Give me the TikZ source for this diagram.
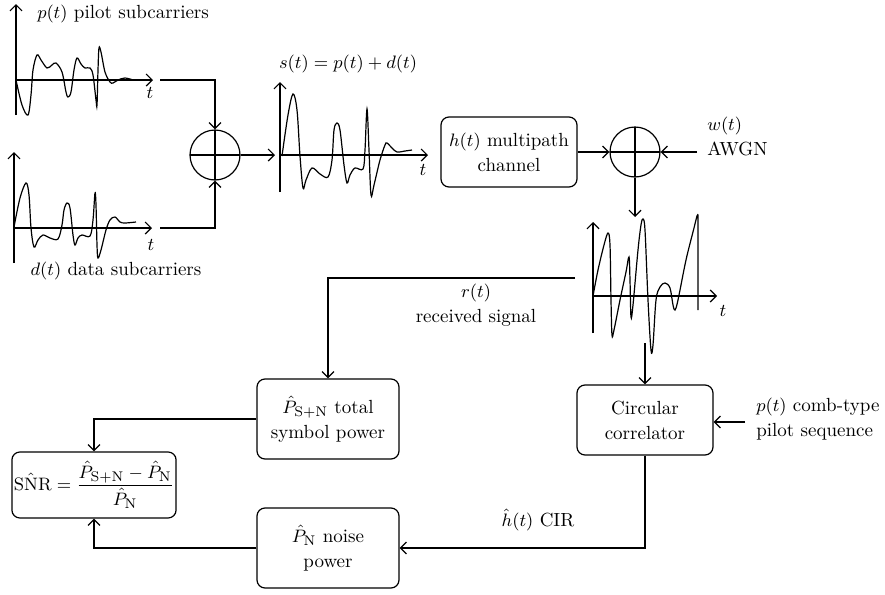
\documentclass[tikz,border=0pt]{standalone}
\usepackage{amsmath}
\usepackage{tikz}
\usetikzlibrary{positioning,arrows.meta,calc}

\begin{document}
\begin{tikzpicture}[
      x=0.5pt, y=-0.5pt,
      font=\fontsize{9.5}{12.5}\selectfont,
      line width=0.6pt,
      arr/.style={-{Straight Barb[length=3pt,width=6pt]}},
      block/.style={rectangle, draw, rounded corners=4pt, align=center, inner sep=2pt},
      adder/.style={circle, draw, minimum size=25pt, inner sep=0pt,
                    path picture={\draw (path picture bounding box.north) -- (path picture bounding box.south)
                                        (path picture bounding box.west) -- (path picture bounding box.east);}},
      wave/.style={smooth, tension=0.55},
    ]
    \useasboundingbox (0,0) rectangle (885,595);

    % transmitter side
    \node[adder] (sum1) at (215,155) {};
    \node[block, minimum width=68pt, minimum height=35pt] (chan) at (509,152) {$h(t)$ multipath\\channel};
    \node[adder] (sum2) at (635,152) {};

    % receiver side
    \node[block, minimum width=68pt, minimum height=35pt] (corr) at (645,420) {Circular\\correlator};
    \node[block, minimum width=71pt, minimum height=40pt] (psn) at (328,419) {$\hat{P}_{\mathrm{S+N}}$ total\\symbol power};
    \node[block, minimum width=71pt, minimum height=40pt] (pn) at (328,548) {$\hat{P}_{\mathrm{N}}$ noise\\power};
    \node[block, minimum width=80pt, minimum height=33pt, inner sep=1pt] (snr) at (94,485)
         {$\mathrm{S\hat{N}R} = \dfrac{\hat{P}_{\mathrm{S+N}} - \hat{P}_{\mathrm{N}}}{\hat{P}_{\mathrm{N}}}$};

    % labels
    \node[anchor=west] (plab) at (30,14) {$p(t)$ pilot subcarriers};
    \node (dlab) at (116,271) {$d(t)$ data subcarriers};
    \node (slab) at (348,64) {$s(t) = p(t) + d(t)$};
    \node[align=left, anchor=west] (awgn) at (700,136) {$w(t)$\\AWGN};
    \node[align=center] (rlab) at (476,305) {$r(t)$\\received signal};
    \node[align=left, anchor=west] (pilot) at (749,419) {$p(t)$ comb-type\\pilot sequence};
    \node (cir) at (538,520) {$\hat{h}(t)$ CIR};
    \node (tp) at (150,93) {$t$};
    \node (td) at (151,245) {$t$};
    \node (ts) at (423,170) {$t$};
    \node (tr) at (723,311) {$t$};

    % axes
    \draw[arr] (16,115) -- (16,4);
    \draw[arr] (16,80) -- (153,80);
    \draw[arr] (14,263) -- (14,152);
    \draw[arr] (14,228) -- (152,228);
    \draw[arr] (280,192) -- (280,82);
    \draw[arr] (280,155) -- (428,155);
    \draw[arr] (593,333) -- (593,222);
    \draw[arr] (593,296) -- (717,296);

    % waveforms
    \draw plot[wave] coordinates {(16,80) (22,105) (28,115) (31,95) (33,70) (37,55) (41,60) (47,68) (52,65)
          (56,63) (62,72) (66,92) (68,97) (71,92) (74,70) (77,58) (81,64) (85,68) (90,68) (93,75) (96,100)
          (97,105) (98,70) (99,48) (101,52) (105,72) (110,82) (113,83) (118,80) (125,78) (133,80)};
    \draw plot[wave] coordinates {(14,227) (20,198) (26,183) (29,195) (31,228) (34,247) (38,240) (43,235)
          (50,238) (58,239) (62,225) (64,210) (67,203) (70,208) (73,235) (75,245) (78,238) (82,235) (90,236)
          (93,220) (95,193) (96,205) (97,245) (98,258) (101,250) (106,230) (110,220) (115,217) (120,222)
          (125,223) (136,222)};
    \draw plot[wave] coordinates {(282,156) (288,115) (293,94) (297,110) (300,156) (303,188) (306,180)
          (312,168) (320,174) (328,177) (332,160) (334,130) (337,123) (340,130) (344,165) (347,183) (350,175)
          (355,168) (363,169) (365,150) (367,109) (369,150) (371,195) (374,185) (380,160) (385,145) (387,143)
          (392,148) (397,152) (405,151) (412,150)};
    \draw plot[wave] coordinates {(593,296) (598,270) (604,245) (608,233) (610,245) (611,300) (612,335)
          (614,330) (620,300) (626,272) (629,257) (630,280) (631,317) (633,305) (638,250) (641,225) (643,219)
          (645,230) (648,300) (651,350) (653,345) (656,300) (660,287) (665,283) (670,288) (673,305) (675,310)
          (678,300) (686,260) (694,228) (697,216) (698,215)} -- (698,310);

    % connectors
    \coordinate (pout) at (160,80);
    \coordinate (dout) at (160,228);
    \coordinate (sin) at (275,155);
    \coordinate (win) at (697,152);
    \coordinate (rin) at (635,217);
    \coordinate (rout) at (575,278);
    \coordinate (rdown) at (645,343);
    \coordinate (pin) at (745,422);

    \draw[arr] (pout) -| (sum1.north);
    \draw[arr] (dout) -| (sum1.south);
    \draw[arr] (sum1.east) -- (sin);
    \draw[arr] (chan) -- (sum2);
    \draw[arr] (win) -- (sum2.east);
    \draw[arr] (sum2.south) -- (rin);
    \draw[arr] (rout) -| (psn.north);
    \draw[arr] (rdown) -- (corr.north);
    \draw[arr] (pin) -- (pin -| corr.east);
    \draw[arr] (psn.west) -| (snr.north);
    \draw[arr] (pn.west) -| (snr.south);
    \draw[arr] (corr.south) |- (pn.east);
  \end{tikzpicture}
\end{document}
